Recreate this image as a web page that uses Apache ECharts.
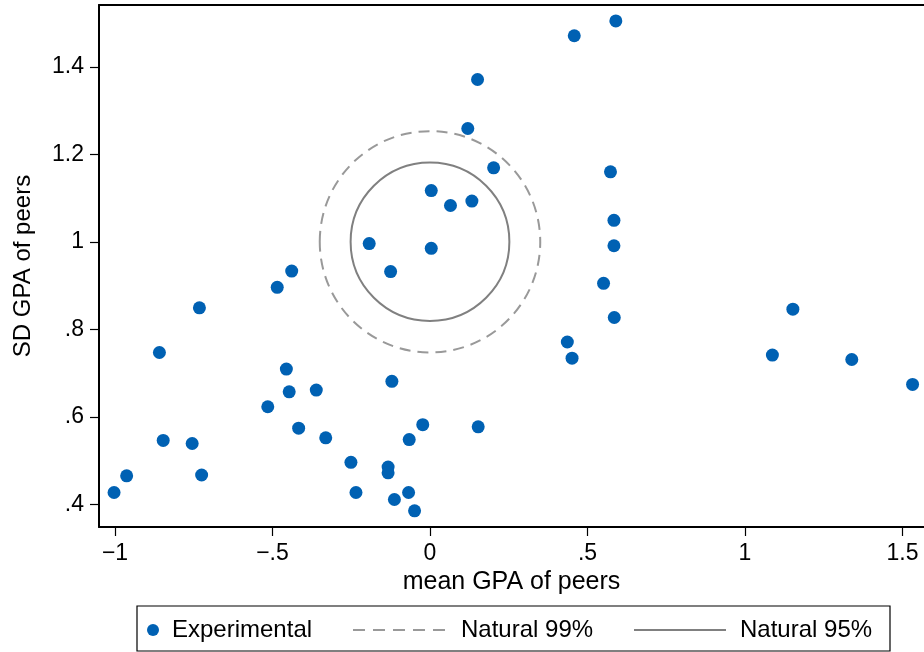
<!DOCTYPE html>
<html>
<head>
<meta charset="utf-8">
<script src="https://cdn.jsdelivr.net/npm/echarts@6/dist/echarts.min.js"></script>
<style>
  html, body { margin: 0; padding: 0; background: #fff; }
  #main { width: 924px; height: 652px; }
</style>
</head>
<body>
<div id="main"></div>
<script>
// experimental peer groups: mean GPA (x) and SD GPA (y)
var expX = [-1.003, -0.963, -0.859, -0.732, -0.847, -0.755, -0.725, -0.485, -0.439, -0.456,
            -0.447, -0.361, -0.515, -0.417, -0.331, -0.251, -0.235, -0.133, -0.133, -0.121,
            -0.113, -0.068, -0.049, -0.066, -0.023, -0.125, 0.590, 0.458, 0.151, 0.120,
            0.202, 0.004, 0.065, 0.133, -0.193, 0.004, 0.573, 0.584, 0.584, 0.551,
            0.585, 0.436, 0.451, 1.152, 1.087, 1.339, 1.532, 0.153];
var expY = [0.427, 0.465, 0.747, 0.849, 0.546, 0.539, 0.467, 0.896, 0.933, 0.709,
            0.657, 0.661, 0.623, 0.574, 0.552, 0.496, 0.427, 0.485, 0.472, 0.681,
            0.411, 0.427, 0.385, 0.548, 0.582, 0.932, 1.505, 1.471, 1.371, 1.259,
            1.169, 1.117, 1.083, 1.093, 0.996, 0.985, 1.160, 1.049, 0.991, 0.905,
            0.827, 0.771, 0.734, 0.846, 0.741, 0.731, 0.674, 0.577];

// natural groups regions: [center x, center y, radius x, radius y]
var natural99 = [0, 1, 0.35, 0.253];
var natural95 = [0, 1, 0.252, 0.181];

var xTicks = [-1, -0.5, 0, 0.5, 1, 1.5];
var yTicks = [0.4, 0.6, 0.8, 1, 1.2, 1.4];

var FONT = 'Liberation Sans';

function stataLabel(v) {
  var s = String(+(+v).toFixed(2));
  s = s.replace(/^(-?)0\./, '$1.');
  return s.replace('-', '\u2212');
}

function ellipseItem(dash, color, width) {
  return function (params, api) {
    var c = api.coord([api.value(0), api.value(1)]);
    var r = api.size([api.value(2), api.value(3)]);
    return {
      type: 'ellipse',
      shape: { cx: c[0], cy: c[1], rx: r[0], ry: r[1] },
      style: { fill: 'none', stroke: color, lineWidth: width, lineDash: dash }
    };
  };
}

var scatterData = expX.map(function (x, i) { return [x, expY[i]]; });

var chart = echarts.init(document.getElementById('main'));

var xMin = -1.0508, xMax = 1.5683;
var blackLine = { color: '#000', width: 2 };

var option = {
  backgroundColor: '#fff',
  animation: false,
  textStyle: { fontFamily: FONT },
  grid: { left: 99, top: 5, right: 0, bottom: 125 },
  xAxis: [
    {
      type: 'value',
      min: xMin, max: xMax,
      name: 'mean GPA of peers',
      nameLocation: 'middle',
      nameGap: 38,
      nameTextStyle: { fontSize: 25, color: '#000', fontFamily: FONT },
      axisLine: { show: true, onZero: false, lineStyle: blackLine },
      splitLine: { show: false },
      axisTick: { show: true, length: 9, customValues: xTicks, lineStyle: { color: '#000', width: 1.2 } },
      axisLabel: {
        customValues: xTicks, margin: 15, fontSize: 23, color: '#000', fontFamily: FONT,
        formatter: stataLabel
      }
    },
    {
      // top frame line only
      type: 'value',
      position: 'top',
      min: xMin, max: xMax,
      axisLine: { show: true, onZero: false, lineStyle: blackLine },
      axisTick: { show: false },
      axisLabel: { show: false },
      splitLine: { show: false }
    }
  ],
  yAxis: {
    type: 'value',
    min: 0.3481, max: 1.5413,
    name: 'SD GPA of peers',
    nameLocation: 'middle',
    nameGap: 64,
    nameTextStyle: { fontSize: 24, color: '#000', fontFamily: FONT },
    axisLine: { show: true, onZero: false, lineStyle: blackLine },
    splitLine: { show: false },
    axisTick: { show: true, length: 9, customValues: yTicks, lineStyle: { color: '#000', width: 1.2 } },
    axisLabel: {
      customValues: yTicks, margin: 15, fontSize: 23, color: '#000', fontFamily: FONT,
      formatter: stataLabel
    }
  },
  legend: [
    {
      left: 147, top: 618, padding: 0,
      itemWidth: 28, itemHeight: 12,
      textStyle: { fontSize: 24, color: '#000', fontFamily: FONT },
      data: [{ name: 'Experimental', icon: 'circle' }]
    },
    {
      left: 353, top: 618, padding: 0,
      itemWidth: 92, itemHeight: 2,
      textStyle: { fontSize: 24, color: '#000', fontFamily: FONT, padding: [0, 0, 0, 11] },
      data: [{
        name: 'Natural 99%',
        icon: 'path://M0,0h12v2h-12zM20,0h12v2h-12zM40,0h12v2h-12zM60,0h12v2h-12zM80,0h12v2h-12z',
        itemStyle: { color: '#999999' }
      }]
    },
    {
      left: 634, top: 618, padding: 0,
      itemWidth: 92, itemHeight: 2,
      textStyle: { fontSize: 24, color: '#000', fontFamily: FONT, padding: [0, 0, 0, 9] },
      data: [{
        name: 'Natural 95%',
        icon: 'path://M0,0h92v2h-92z',
        itemStyle: { color: '#808080' }
      }]
    }
  ],
  graphic: [{
    type: 'rect',
    shape: { x: 137, y: 606, width: 753, height: 45 },
    style: { fill: 'none', stroke: '#000', lineWidth: 1.2 },
    silent: true
  }],
  series: [
    {
      name: 'Natural 99%',
      type: 'custom',
      renderItem: ellipseItem([11, 7], '#999999', 2),
      itemStyle: { color: '#999999' },
      data: [natural99],
      z: 1
    },
    {
      name: 'Natural 95%',
      type: 'custom',
      renderItem: ellipseItem(null, '#808080', 2),
      itemStyle: { color: '#808080' },
      data: [natural95],
      z: 1
    },
    {
      name: 'Experimental',
      type: 'scatter',
      symbol: 'circle',
      symbolSize: 13,
      itemStyle: { color: '#0061b3', opacity: 1 },
      data: scatterData,
      z: 3
    }
  ]
};

chart.setOption(option);
</script>
</body>
</html>
